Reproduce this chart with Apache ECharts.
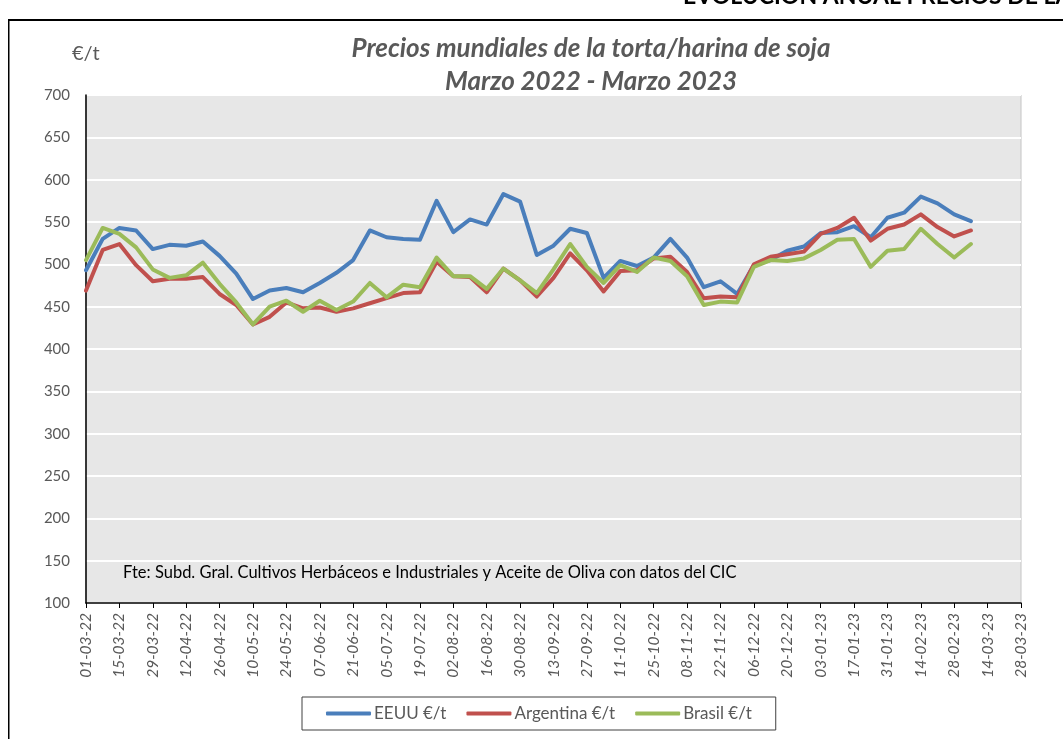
<!DOCTYPE html>
<html lang="es" style="height: 100%">

<head>
  <meta charset="utf-8">
</head>

<body style="height: 100%; margin: 0; background: #fff">
  <div id="container" style="width: 1063px; height: 739px"></div>

  <script type="text/javascript" src="https://cdn.jsdelivr.net/npm/echarts@6/dist/echarts.min.js"></script>

  <script type="text/javascript">
    // fechas semanales (dd-mm-yy)
    const fechas = [
      '01-03-22', '08-03-22', '15-03-22', '22-03-22', '29-03-22', '05-04-22', '12-04-22', '19-04-22', '26-04-22',
      '03-05-22', '10-05-22', '17-05-22', '24-05-22', '31-05-22', '07-06-22', '14-06-22', '21-06-22', '28-06-22',
      '05-07-22', '12-07-22', '19-07-22', '26-07-22', '02-08-22', '09-08-22', '16-08-22', '23-08-22', '30-08-22',
      '06-09-22', '13-09-22', '20-09-22', '27-09-22', '04-10-22', '11-10-22', '18-10-22', '25-10-22', '01-11-22',
      '08-11-22', '15-11-22', '22-11-22', '29-11-22', '06-12-22', '13-12-22', '20-12-22', '27-12-22', '03-01-23',
      '10-01-23', '17-01-23', '24-01-23', '31-01-23', '07-02-23', '14-02-23', '21-02-23', '28-02-23', '07-03-23'
    ];
    const eeuu = [
      493, 530, 543, 540, 518, 523, 522, 527, 510, 489, 459, 469, 472, 467, 478, 490, 505, 540,
      532, 530, 529, 575, 538, 553, 547, 583, 574, 511, 522, 542, 537, 484, 504, 498, 508, 530,
      508, 473, 480, 465, 499, 505, 516, 521, 537, 538, 545, 532, 555, 561, 580, 572, 559, 551
    ];
    const argentina = [
      469, 517, 524, 499, 480, 483, 483, 485, 465, 452, 429, 438, 455, 448, 449, 444, 448, 454,
      460, 466, 467, 503, 486, 485, 467, 495, 481, 462, 484, 513, 493, 468, 492, 493, 507, 509,
      491, 460, 462, 461, 500, 509, 512, 515, 536, 543, 555, 528, 542, 547, 559, 544, 533, 540
    ];
    const brasil = [
      505, 543, 536, 520, 494, 484, 487, 502, 477, 455, 429, 450, 457, 444, 457, 446, 456, 478,
      461, 476, 473, 508, 486, 486, 471, 495, 481, 466, 494, 524, 497, 478, 499, 491, 508, 504,
      486, 452, 456, 455, 497, 505, 504, 507, 517, 529, 530, 497, 516, 518, 542, 524, 508, 524
    ];

    const DAY = 86400000;
    function parseFecha(s) {
      const p = s.split('-');
      return Date.UTC(2000 + Number(p[2]), Number(p[1]) - 1, Number(p[0]));
    }
    const t0 = parseFecha(fechas[0]);
    function dia(s) { return Math.round((parseFecha(s) - t0) / DAY); }
    function etiqueta(d) {
      const dt = new Date(t0 + d * DAY);
      const dd = String(dt.getUTCDate()).padStart(2, '0');
      const mm = String(dt.getUTCMonth() + 1).padStart(2, '0');
      const yy = String(dt.getUTCFullYear() % 100).padStart(2, '0');
      return dd + '-' + mm + '-' + yy;
    }
    function serie(vals) {
      return fechas.map(function (f, i) { return [dia(f), vals[i]]; });
    }

    const font = 'Lato, "Open Sans", sans-serif';
    const grey = '#595959';

    var myChart = echarts.init(document.getElementById('container'), null, { renderer: 'canvas' });

    function linea(name, vals, color) {
      return {
        type: 'line',
        name: name,
        data: serie(vals),
        showSymbol: false,
        symbol: 'none',
        lineStyle: { width: 4, color: color, cap: 'round', join: 'round' },
        itemStyle: { color: color }
      };
    }

    var option = {
      animation: false,
      textStyle: { fontFamily: font },
      title: {
        text: 'Precios mundiales de la torta/harina de soja\nMarzo 2022 - Marzo 2023',
        left: 586,
        textAlign: 'center',
        top: 27,
        textStyle: {
          fontFamily: font,
          fontSize: 26,
          fontWeight: 'bold',
          fontStyle: 'italic',
          color: grey,
          lineHeight: 33
        }
      },
      graphic: [
        { type: 'rect', shape: { x: 8, y: 19, width: 1060, height: 2 }, style: { fill: '#000' } },
        { type: 'rect', shape: { x: 8, y: 19, width: 1.5, height: 730 }, style: { fill: '#000' } },
        {
          type: 'text', left: 683, top: -15,
          style: { text: 'EVOLUCIÓN ANUAL PRECIOS DE LA', fill: '#000', font: 'bold 23px ' + font }
        },
        {
          type: 'text', left: 72, top: 44,
          style: { text: '€/t', fill: grey, font: '20px ' + font }
        },
        {
          type: 'text', left: 123, top: 564,
          style: {
            text: 'Fte: Subd. Gral. Cultivos Herbáceos e Industriales y Aceite de Oliva con datos del CIC',
            fill: '#000', font: '16.5px ' + font
          }
        }
      ],
      legend: {
        left: 302,
        top: 697,
        padding: [8, 24, 8, 24],
        borderColor: '#404040',
        borderWidth: 1,
        icon: 'roundRect',
        itemWidth: 45,
        itemHeight: 4,
        itemGap: 20,
        textStyle: { fontFamily: font, fontSize: 17, color: grey, padding: [0, 0, 0, -2] }
      },
      grid: {
        left: 86,
        right: 42,
        top: 95,
        bottom: 136,
        show: true,
        backgroundColor: '#e7e7e7',
        borderColor: '#c4c4c4',
        borderWidth: 1
      },
      xAxis: {
        type: 'value',
        min: 0,
        max: 392,
        interval: 14,
        splitLine: { show: false },
        axisLine: { lineStyle: { color: '#000', width: 1.5 } },
        axisTick: { show: true, length: 5, lineStyle: { color: '#000' } },
        axisLabel: {
          rotate: 90,
          margin: 10,
          fontSize: 15.5,
          fontStyle: 'italic',
          color: grey,
          fontFamily: font,
          formatter: function (v) { return etiqueta(v); }
        }
      },
      yAxis: {
        type: 'value',
        min: 100,
        max: 700,
        interval: 50,
        axisLine: { show: true, lineStyle: { color: '#000', width: 1.5 } },
        axisTick: { show: false },
        splitLine: { lineStyle: { color: '#ffffff', width: 2 } },
        axisLabel: { fontSize: 15, color: grey, margin: 16, fontFamily: font }
      },
      series: [
        linea('EEUU €/t', eeuu, '#4a7ebb'),
        linea('Argentina €/t', argentina, '#c0504d'),
        linea('Brasil €/t', brasil, '#9bbb59')
      ]
    };

    myChart.setOption(option);
    window.addEventListener('resize', myChart.resize);
  </script>
</body>

</html>
